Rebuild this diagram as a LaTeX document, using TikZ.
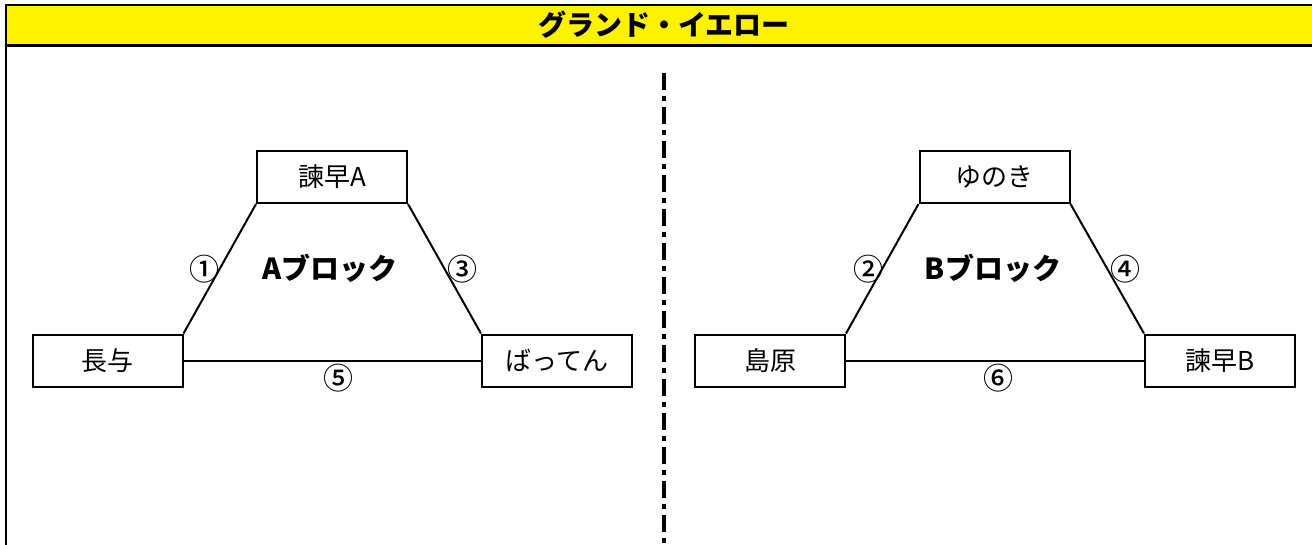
\documentclass[tikz,border=0pt]{standalone}
\usepackage{fontspec}
\setmainfont{Noto Sans CJK JP}
\newfontfamily\popfont{Noto Sans CJK JP Black}
\newfontfamily\numfont{Noto Sans CJK JP Medium}
\usetikzlibrary{positioning}
\tikzset{
  team/.style={draw,line width=2pt,minimum width=150pt,minimum height=52pt,inner sep=0pt,font=\fontsize{26}{30}\selectfont},
  link/.style={line width=2pt},
  num/.style={font=\numfont\fontsize{30}{34}\selectfont,inner sep=0pt},
  blocklabel/.style={font=\popfont\fontsize{29}{34}\selectfont}
}
\begin{document}
\begin{tikzpicture}[x=1pt,y=-1pt]
    \useasboundingbox (0,0) rectangle (1312,544);

    % -- Title bar --
    \fill[yellow] (6,5) rectangle (1314,45.5);
    \draw[line width=2.2pt] (1314,5) -- (6,5) -- (6,545);
    \draw[line width=2.2pt] (6,45.5) -- (1314,45.5);
    \node[font=\bfseries\fontsize{28}{32}\selectfont] (title) at (664,25) {グランド・イエロー};

    % -- Divider between the two blocks --
    \draw[line width=3.5pt,dash pattern=on 17pt off 6pt on 5pt off 6pt] (664,73) -- (664,545);

    % -- A block --
    \node[team] (isaA)   at (332,177)   {諫早A};
    \node[team] (nagayo) at (107.5,360.5) {長与};
    \node[team] (batten) at (557,360.5) {ばってん};
    \draw[link] (isaA.south west) -- (nagayo.north east) node[num,midway,xshift=-15pt] {①};
    \draw[link] (isaA.south east) -- (batten.north west) node[num,midway,xshift=18pt] {③};
    \draw[link] (nagayo.east) -- (batten.west) node[num,midway,below=3pt,xshift=6pt] {⑤};
    \node[blocklabel] (blockA) at (330,268) {Aブロック};

    % -- B block --
    \node[team] (yunoki)   at (994.5,177) {ゆのき};
    \node[team] (shimabara) at (770,360.5) {島原};
    \node[team] (isaB)     at (1220,360.5) {諫早B};
    \draw[link] (yunoki.south west) -- (shimabara.north east) node[num,midway,xshift=-14pt] {②};
    \draw[link] (yunoki.south east) -- (isaB.north west) node[num,midway,xshift=18pt] {④};
    \draw[link] (shimabara.east) -- (isaB.west) node[num,midway,below=3pt,xshift=3pt] {⑥};
    \node[blocklabel] (blockB) at (993,268) {Bブロック};

\end{tikzpicture}
\end{document}
